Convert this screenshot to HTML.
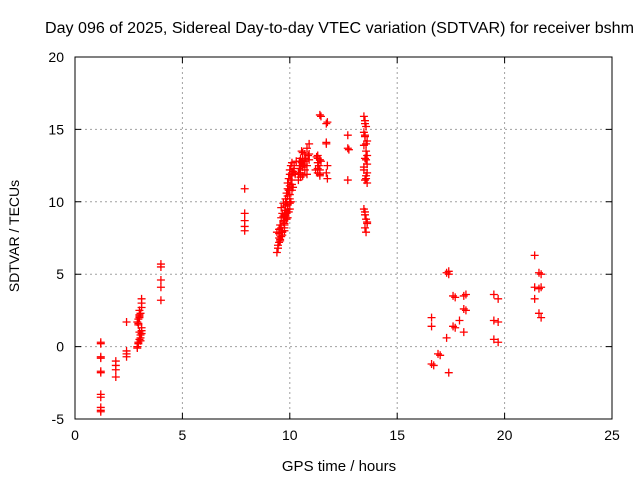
<!DOCTYPE html>
<html><head><meta charset="utf-8"><style>
body{margin:0;background:#fff}
svg text{font-family:"Liberation Sans",sans-serif;font-size:14px;fill:#000}
</style></head><body>
<svg id="chart" width="640" height="480" viewBox="0 0 640 480" xmlns="http://www.w3.org/2000/svg">
<text x="339.5" y="33" text-anchor="middle" style="font-size:15.5px" textLength="589" lengthAdjust="spacingAndGlyphs">Day 096 of 2025, Sidereal Day-to-day VTEC variation (SDTVAR) for receiver bshm</text>
<g id="grid"></g>
<g id="axes"></g>
<g id="points"></g>
<text x="339" y="471" text-anchor="middle" style="font-size:15px">GPS time / hours</text>
<text transform="translate(19,236) rotate(-90)" text-anchor="middle">SDTVAR / TECUs</text>
</svg>
<script>
const xTicks=[0,5,10,15,20,25];
const yTicks=[-5,0,5,10,15,20];
const xs=[1.2,1.2,1.2,1.2,1.2,1.2,1.2,1.2,1.2,1.2,1.2,1.9,1.9,1.9,1.9,2.4,2.4,2.4,2.4,
2.9,2.95,3.0,3.05,3.0,3.1,3.05,2.95,3.1,2.9,2.95,3.0,3.05,3.0,3.1,3.1,3.1,2.95,3.0,2.9,3.05,3.1,2.95,3.0,
4.0,4.0,4.0,4.0,4.0,7.9,7.9,7.9,7.9,7.9,
9.4,9.45,9.5,9.4,9.5,9.6,9.55,9.6,9.65,9.6,9.7,9.75,9.8,9.7,9.8,9.85,9.9,9.9,9.95,10.0,10.0,10.05,10.1,10.1,10.0,9.9,9.85,9.75,9.65,9.5,10.0,10.1,10.2,10.3,
9.45,9.55,9.65,9.7,9.75,9.8,9.85,9.9,9.95,10.0,10.05,10.1,10.15,10.2,9.6,9.7,9.8,9.9,10.0,10.1,9.5,9.6,9.75,9.85,9.95,10.05,10.15,10.25,9.45,9.55,9.65,9.75,9.9,10.0,
10.4,10.5,10.6,10.7,10.8,10.9,10.6,10.7,10.8,10.5,10.9,10.4,10.45,10.55,10.65,10.75,10.85,10.5,10.6,10.7,10.4,10.5,10.6,10.8,10.9,10.45,10.55,
11.2,11.3,11.3,11.3,11.4,11.3,11.4,11.25,11.35,11.4,11.45,11.3,11.4,11.4,11.45,11.7,11.75,11.7,11.7,11.7,11.75,11.75,
12.7,12.7,12.75,12.7,
13.45,13.5,13.55,13.45,13.5,13.6,13.45,13.55,13.5,13.6,13.45,13.55,13.5,13.6,13.55,13.45,13.5,13.55,13.6,13.5,13.55,13.6,13.5,13.55,13.6,13.45,13.5,13.55,13.6,13.5,
16.6,16.6,16.6,16.7,16.9,17.0,17.3,17.4,17.4,17.3,17.4,17.6,17.7,17.6,17.7,17.9,18.1,18.2,18.1,18.2,18.1,
19.5,19.7,19.5,19.7,19.5,19.7,21.4,21.4,21.4,21.6,21.7,21.7,21.6,21.6,21.7];
const ys=[0.3,0.2,-0.7,-0.8,-1.7,-1.8,-3.3,-3.5,-4.2,-4.4,-4.5,-1.0,-1.3,-1.6,-2.1,1.7,-0.3,-0.5,-0.7,
0.0,0.3,0.5,0.8,1.0,1.3,0.6,0.2,1.1,1.7,1.9,2.1,2.3,2.5,2.7,3.0,3.3,1.5,2.0,-0.1,0.4,0.9,1.6,2.2,
5.7,5.5,4.6,4.1,3.2,10.9,9.2,8.7,8.3,8.0,
6.5,6.8,7.2,7.9,8.1,7.6,8.4,8.9,9.2,9.6,9.0,8.5,9.4,9.9,10.2,10.6,10.9,11.3,11.6,11.9,12.2,12.5,12.7,12.0,10.5,9.8,9.2,8.2,7.9,7.8,9.9,11.2,12.3,12.8,
7.0,7.4,8.0,8.7,9.1,9.7,10.0,10.4,10.8,11.1,11.5,11.8,12.1,12.5,8.2,8.6,9.0,9.5,10.2,10.8,7.5,7.9,8.4,8.8,9.3,10.0,11.0,11.9,6.8,7.3,7.7,8.0,8.9,9.5,
12.0,12.5,12.9,13.3,13.7,14.0,11.8,12.2,11.9,13.0,13.3,11.5,12.3,12.7,12.6,13.0,13.2,12.0,12.4,12.8,11.9,11.7,13.4,12.5,12.9,12.8,13.5,
12.2,13.2,13.0,12.7,12.9,12.0,11.9,13.1,12.5,12.2,12.8,12.3,11.8,16.0,15.9,15.4,15.5,14.1,14.0,12.0,11.6,12.5,
14.6,13.7,13.6,11.5,
15.9,15.6,15.2,14.8,14.5,14.2,13.9,13.5,13.0,12.6,12.2,11.8,11.5,11.3,12.9,9.5,9.1,8.8,8.5,8.2,7.9,8.6,15.4,14.0,13.2,12.4,14.6,11.6,12.0,9.3,
2.0,1.4,-1.2,-1.3,-0.5,-0.6,5.1,5.2,5.0,0.6,-1.8,3.5,3.4,1.4,1.3,1.8,3.5,3.6,2.6,2.5,1.0,
3.6,3.3,1.8,1.7,0.5,0.3,6.3,4.1,3.3,5.1,5.0,4.1,4.0,2.3,2.0];
const L=75,R=612,T=57,B=419,x0=0,x1=25,y0=-5,y1=20;
const sx=v=>L+(v-x0)/(x1-x0)*(R-L);
const sy=v=>B-(v-y0)/(y1-y0)*(B-T);
const NS='http://www.w3.org/2000/svg';
function mk(tag,attrs,parent){const e=document.createElementNS(NS,tag);for(const k in attrs)e.setAttribute(k,attrs[k]);parent.appendChild(e);return e;}
const grid=document.getElementById('grid'),axes=document.getElementById('axes'),pts=document.getElementById('points');
xTicks.forEach(t=>{const x=sx(t);
 if(t>x0&&t<x1){const g=mk('line',{x1:x,x2:x,y1:T,y2:B,stroke:'#a0a0a0','stroke-dasharray':'2,3'},grid);}
 const tk=mk('path',{d:`M${x},${B}v-6M${x},${T}v6`,stroke:'#000'},axes);
 const tx=mk('text',{x:x,y:B+21,'text-anchor':'middle'},axes);tx.textContent=t;});
yTicks.forEach(t=>{const y=sy(t);
 if(t>y0&&t<y1){const g=mk('line',{x1:L,x2:R,y1:y,y2:y,stroke:'#a0a0a0','stroke-dasharray':'2,3'},grid);}
 const tk=mk('path',{d:`M${L},${y}h6M${R},${y}h-6`,stroke:'#000'},axes);
 const tx=mk('text',{x:L-11,y:y+5,'text-anchor':'end'},axes);tx.textContent=t;});
const bd=mk('rect',{x:L,y:T,width:R-L,height:B-T,fill:'none',stroke:'#000'},axes);

xs.forEach((v,i)=>{const x=sx(v),y=sy(ys[i]);
 const p=mk('path',{d:`M${x-4},${y}h8M${x},${y-4}v8`,stroke:'#ff0000','stroke-width':1.3},pts);
 
 });
</script>
</body></html>
